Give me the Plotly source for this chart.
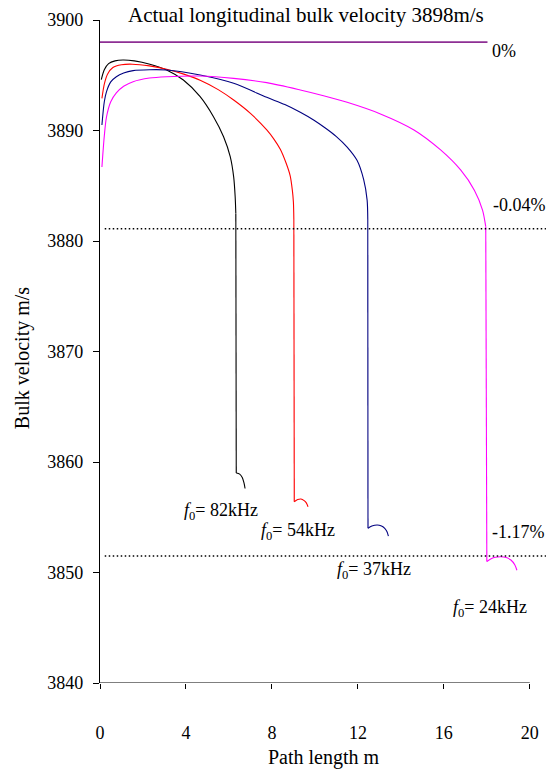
import plotly.graph_objects as go

# Bulk velocity versus path length for four centre frequencies.
# Each series: the smooth rising/falling part, then the steep drop to the tail hook.
x_82 = [0.06, 0.2, 0.4, 0.7, 1.07, 1.6, 2.32, 3.1, 3.88, 4.66, 5.28, 5.75, 6.06, 6.22, 6.29, 6.32]
v_82 = [3894.6, 3895.5, 3896.05, 3896.3, 3896.38, 3896.3, 3896.0, 3895.48, 3894.57, 3893.06, 3891.25,
        3889.44, 3887.63, 3885.8, 3884.0, 3882.5]
tail_x_82 = [6.34, 6.5, 6.62, 6.7, 6.75]
tail_v_82 = [3859.0, 3858.9, 3858.6, 3858.1, 3857.6]

x_54 = [0.09, 0.2, 0.35, 0.6, 1.0, 1.5, 2.3, 3.1, 3.9, 4.66, 5.5, 6.22, 7.0, 7.76, 8.1, 8.39, 8.65, 8.85, 8.95,
        9.0, 9.02]
v_54 = [3892.9, 3894.2, 3895.1, 3895.7, 3895.95, 3896.0, 3895.85, 3895.55, 3895.1, 3894.55, 3893.7, 3892.76,
        3891.55, 3890.05, 3889.2, 3888.3, 3887.1, 3885.9, 3884.6, 3883.5, 3882.0]
tail_x_54 = [9.04, 9.2, 9.35, 9.5, 9.6, 9.68]
tail_v_54 = [3856.4, 3856.6, 3856.65, 3856.5, 3856.3, 3855.95]

x_37 = [0.09, 0.2, 0.3, 0.5, 0.76, 1.1, 1.54, 2.3, 3.1, 4.66, 6.22, 7.76, 8.6, 9.32, 9.94, 10.5, 11.0, 11.5,
        11.96, 12.27, 12.43, 12.46]
v_37 = [3890.5, 3892.6, 3893.5, 3894.4, 3894.87, 3895.2, 3895.42, 3895.5, 3895.48, 3895.02, 3894.27, 3893.0,
        3892.35, 3891.65, 3890.95, 3890.2, 3889.45, 3888.5, 3887.3, 3885.55, 3883.7, 3882.0]
tail_x_37 = [12.47, 12.65, 12.9, 13.1, 13.25, 13.35, 13.42]
tail_v_37 = [3854.0, 3854.2, 3854.3, 3854.2, 3854.0, 3853.7, 3853.3]

x_24 = [0.09, 0.2, 0.3, 0.5, 0.76, 1.1, 1.54, 2.3, 3.1, 4.66, 6.22, 7.76, 9.32, 10.4, 11.5, 13.05, 14.61, 15.85,
        16.78, 17.42, 17.8, 17.95]
v_24 = [3886.7, 3889.5, 3891.2, 3892.6, 3893.4, 3894.0, 3894.42, 3894.75, 3894.87, 3894.93, 3894.72, 3894.33,
        3893.67, 3893.15, 3892.55, 3891.5, 3890.05, 3888.24, 3886.43, 3884.6, 3882.8, 3881.3]
tail_x_24 = [18.0, 18.2, 18.4, 18.65, 18.9, 19.12, 19.3, 19.4]
tail_v_24 = [3851.0, 3851.25, 3851.38, 3851.43, 3851.35, 3851.13, 3850.7, 3850.2]

actual_velocity = 3898
actual_x = [0, 18.03]
limit_levels = [3881.1, 3851.5]
limit_x = [0.22, 20.75]

freq_labels = ["<i>f</i><sub>0</sub>= 82kHz", "<i>f</i><sub>0</sub>= 54kHz",
               "<i>f</i><sub>0</sub>= 37kHz", "<i>f</i><sub>0</sub>= 24kHz"]
freq_label_x = [3.8, 7.41, 10.95, 16.35]
freq_label_y = [3855.5, 3853.7, 3850.2, 3846.76]
pct_labels = ["0%", "-0.04%", "-1.17%"]
pct_label_x = [18.14, 18.19, 18.14]
pct_label_y = [3897.15, 3883.26, 3853.64]

x_ticks = [0, 4, 8, 12, 16, 20]
y_ticks = [3840, 3850, 3860, 3870, 3880, 3890, 3900]

FONT = "Liberation Serif, Times New Roman, serif"

fig = go.Figure()

series = [
    (x_82, v_82, tail_x_82, tail_v_82, "#000000"),
    (x_54, v_54, tail_x_54, tail_v_54, "#FF0000"),
    (x_37, v_37, tail_x_37, tail_v_37, "#000080"),
    (x_24, v_24, tail_x_24, tail_v_24, "#FF00FF"),
]
for xs, vs, txs, tvs, col in series:
    ln = dict(color=col, width=1.1)
    # smooth main curve
    fig.add_trace(go.Scatter(x=xs, y=vs, mode="lines", line=dict(ln, shape="spline", smoothing=0.8),
                             showlegend=False, hoverinfo="skip"))
    # steep drop
    fig.add_trace(go.Scatter(x=[xs[-1], txs[0]], y=[vs[-1], tvs[0]], mode="lines", line=ln,
                             showlegend=False, hoverinfo="skip"))
    # tail hook
    fig.add_trace(go.Scatter(x=txs, y=tvs, mode="lines", line=dict(ln, shape="spline", smoothing=0.8),
                             showlegend=False, hoverinfo="skip"))

fig.add_trace(go.Scatter(x=actual_x, y=[actual_velocity] * 2, mode="lines",
                         line=dict(color="#8E2F94", width=1.6), showlegend=False))

for lv in limit_levels:
    fig.add_trace(go.Scatter(x=limit_x, y=[lv, lv], mode="lines",
                             line=dict(color="#000000", width=1.5, dash="1.5px,2.5px"),
                             showlegend=False, cliponaxis=False))

annotations = []
for t, x, y in zip(freq_labels, freq_label_x, freq_label_y):
    annotations.append(dict(x=x, y=y, xref="x", yref="y", text=t, showarrow=False,
                            xanchor="left", yanchor="middle", font=dict(family=FONT, size=18, color="#000")))
for t, x, y in zip(pct_labels, pct_label_x, pct_label_y):
    annotations.append(dict(x=x, y=y, xref="x", yref="y", text=t, showarrow=False,
                            xanchor="left", yanchor="middle", font=dict(family=FONT, size=18, color="#000")))

annotations.append(dict(x=0.461, y=1, xref="paper", yref="paper", yshift=5,
                        text="Actual longitudinal bulk velocity 3898m/s", showarrow=False,
                        xanchor="center", yanchor="middle", font=dict(family=FONT, size=21, color="#000")))
annotations.append(dict(x=0.5, y=0, xref="paper", yref="paper", yshift=-74,
                        text="Path length m", showarrow=False, xanchor="center", yanchor="middle",
                        font=dict(family=FONT, size=20, color="#000")))
annotations.append(dict(x=0, y=0.49, xref="paper", yref="paper", xshift=-78,
                        text="Bulk velocity m/s", showarrow=False, textangle=-90,
                        xanchor="center", yanchor="middle", font=dict(family=FONT, size=20, color="#000")))

# x axis baseline only spans the labelled range
shapes = [dict(type="line", xref="x", yref="y", x0=0, x1=20, y0=3840, y1=3840,
               line=dict(color="#000", width=1.2))]

fig.update_layout(
    width=553, height=771,
    margin=dict(l=100, r=6, t=20, b=88),
    paper_bgcolor="white", plot_bgcolor="white",
    annotations=annotations, shapes=shapes,
    font=dict(family=FONT, size=18, color="#000"),
    xaxis=dict(range=[0, 20.8], tickvals=x_ticks, ticks="outside", ticklen=5, tickwidth=1.2,
               tickcolor="#000", showgrid=False, zeroline=False, showline=False,
               ticklabelstandoff=28, tickfont=dict(family=FONT, size=18, color="#000")),
    yaxis=dict(range=[3840, 3900], tickvals=y_ticks, ticks="outside", ticklen=6, tickwidth=1.2,
               tickcolor="#000", showgrid=False, zeroline=False, showline=True, linecolor="#000",
               linewidth=1.2, ticklabelstandoff=6, tickfont=dict(family=FONT, size=18, color="#000")),
)

fig.write_html("out.html")
